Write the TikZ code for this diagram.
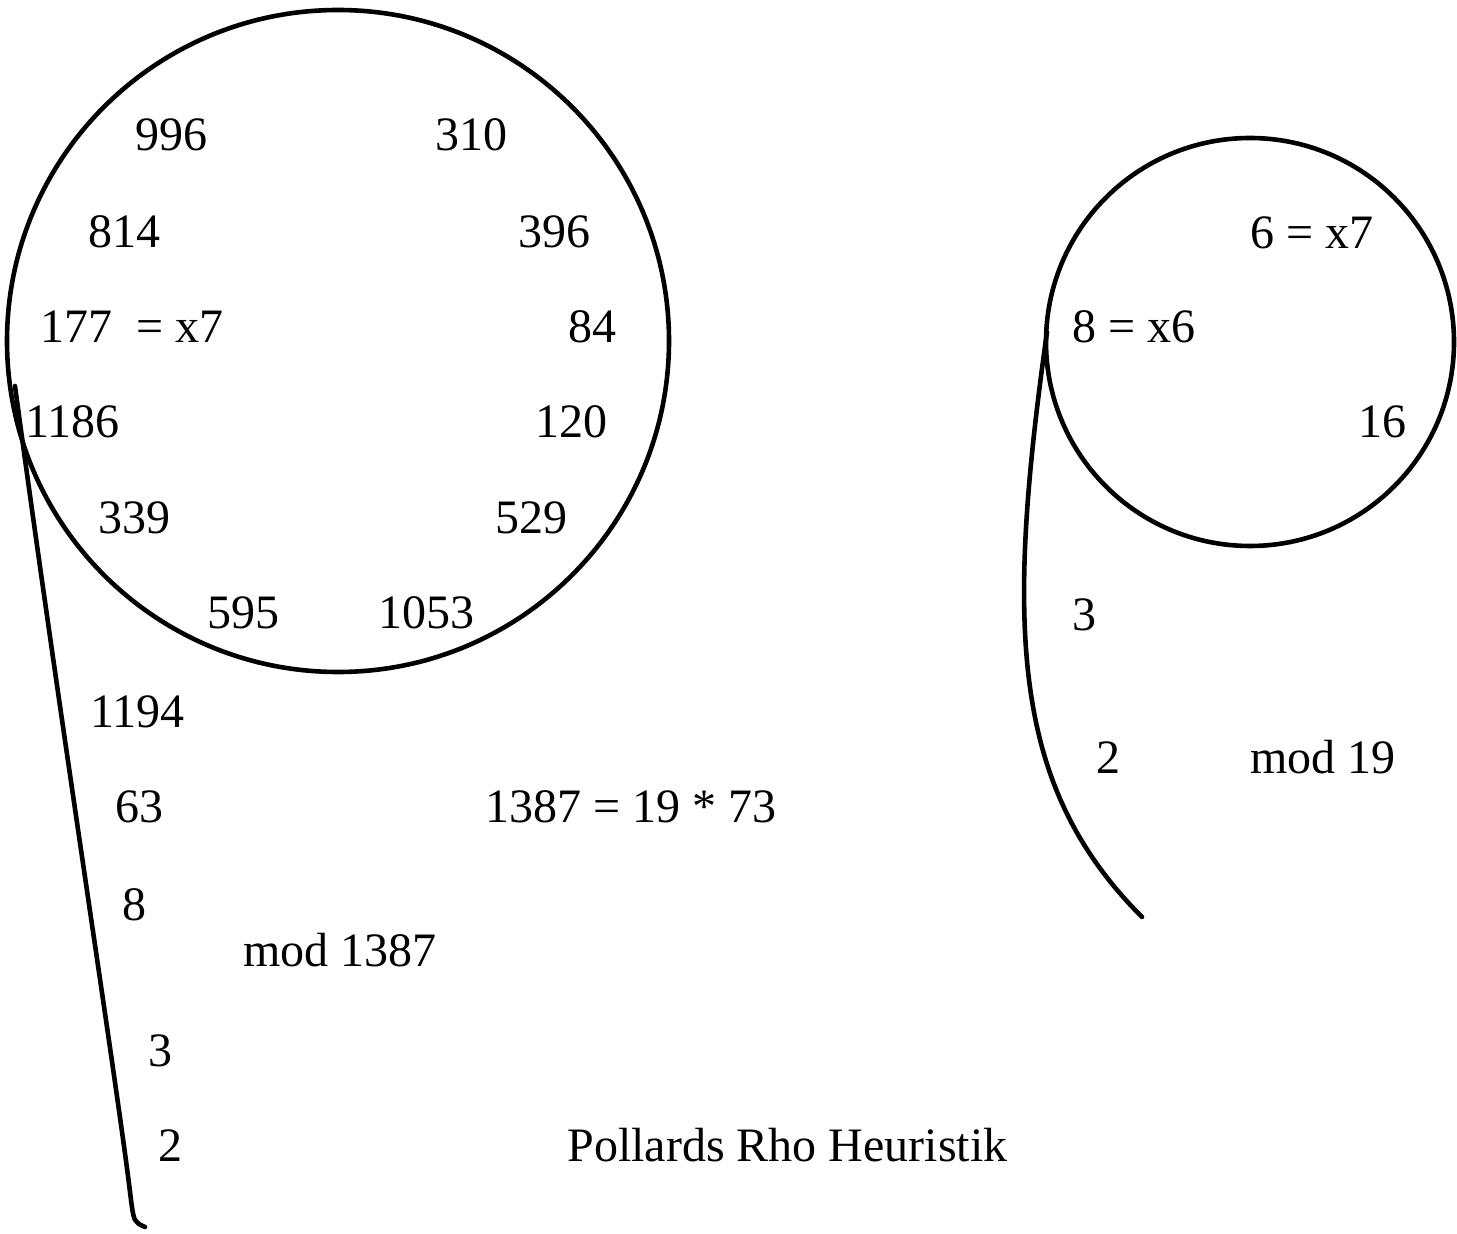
\documentclass[tikz,border=0pt]{standalone}
\usepackage{fontspec}
\setmainfont{Liberation Serif}
\begin{document}
\begin{tikzpicture}[x=0.5pt,y=-0.5pt,
  lbl/.style={anchor=base west,inner sep=0pt,font=\fontsize{24}{28}\selectfont},
  curve/.style={line width=2.3pt,line cap=round}]
\useasboundingbox (0,0) rectangle (1457,1234);
% left rho
\draw[curve] (338,341) circle[radius=165.5pt];
\coordinate (la) at (15,386);
\coordinate (lb) at (145,1227);
\draw[curve] (la) .. controls (60,720) and (118,1090) .. (131,1200) .. controls (134,1222) .. (lb);
% right rho
\draw[curve] (1250,342) circle[radius=102pt];
\coordinate (ra) at (1047,332);
\coordinate (rb) at (1142,917);
\draw[curve] (ra) .. controls (1005,630) and (1012,787) .. (rb);
% left labels
\node[lbl] (n996) at (135,151) {996};
\node[lbl] (n310) at (435,151) {310};
\node[lbl] (n814) at (88,248) {814};
\node[lbl] (n396) at (518,248) {396};
\node[lbl] (n177) at (40,343) {177\ \ = x7};
\node[lbl] (n84) at (568,343) {84};
\node[lbl] (n1186) at (25,438) {1186};
\node[lbl] (n120) at (535,438) {120};
\node[lbl] (n339) at (98,534) {339};
\node[lbl] (n529) at (495,534) {529};
\node[lbl] (n595) at (207,629) {595};
\node[lbl] (n1053) at (378,629) {1053};
\node[lbl] (n1194) at (90,728) {1194};
\node[lbl] (n63) at (115,823) {63};
\node[lbl] (nfac) at (485,823) {1387 = 19 * 73};
\node[lbl] (n8) at (122,921) {8};
\node[lbl] (nmod) at (243,966) {mod 1387};
\node[lbl] (n3) at (148,1066) {3};
\node[lbl] (n2) at (158,1161) {2};
\node[lbl] (title) at (567,1161) {Pollards Rho Heuristik};
% right labels
\node[lbl] (r6) at (1250,249) {6 = x7};
\node[lbl] (r8) at (1072,343) {8 = x6};
\node[lbl] (r16) at (1358,438) {16};
\node[lbl] (r3) at (1072,631) {3};
\node[lbl] (r2) at (1096,774) {2};
\node[lbl] (rmod) at (1250,774) {mod 19};
\end{tikzpicture}
\end{document}
